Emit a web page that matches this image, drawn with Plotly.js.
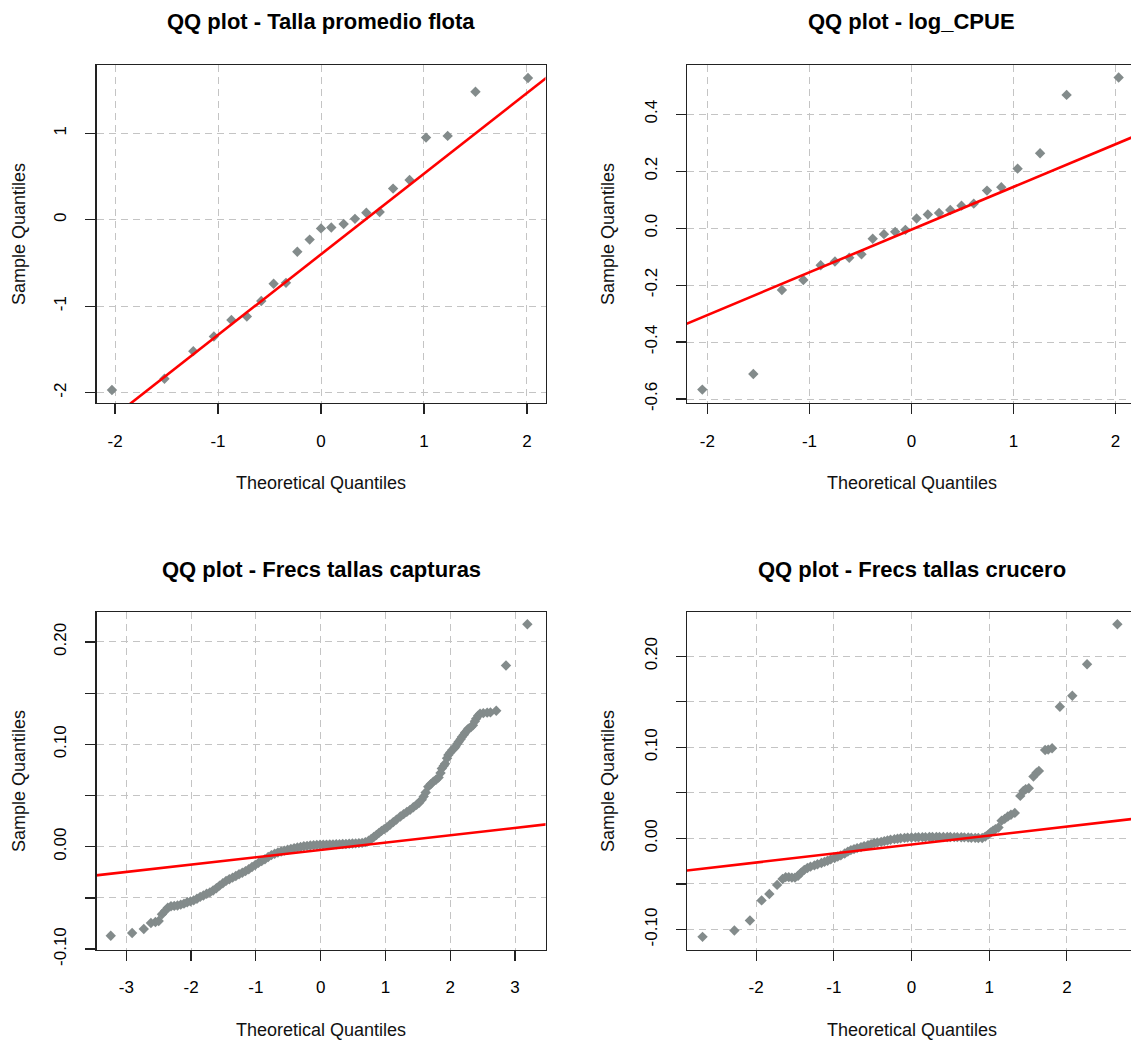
<!DOCTYPE html>
<html>
<head>
<meta charset="utf-8">
<script src="https://cdn.plot.ly/plotly-3.0.1.min.js"></script>
<style>
html,body{margin:0;padding:0;background:#fff;overflow:hidden;width:1131px;height:1046px;}
#chart{width:1160px;height:1046px;}
</style>
</head>
<body>
<div id="chart"></div>
<script>
// ---------- Data ----------
const titles = ["QQ plot - Talla promedio flota", "QQ plot - log_CPUE",
                "QQ plot - Frecs tallas capturas", "QQ plot - Frecs tallas crucero"];
const xTitle = "Theoretical Quantiles";
const yTitle = "Sample Quantiles";

// Panel 1: Talla promedio flota
const p1_x = [-2.03,-1.52,-1.24,-1.04,-0.87,-0.72,-0.58,-0.46,-0.34,-0.23,-0.11,0.00,0.10,0.22,0.33,0.44,0.57,0.70,0.86,1.02,1.23,1.50,2.01];
const p1_y = [-1.97,-1.84,-1.52,-1.35,-1.16,-1.12,-0.94,-0.74,-0.73,-0.37,-0.23,-0.10,-0.09,-0.05,0.01,0.08,0.09,0.36,0.46,0.95,0.97,1.48,1.64];
const p1_line = {intercept: -0.40, slope: 0.933};

// Panel 2: log_CPUE
const p2_x = [-2.05,-1.55,-1.27,-1.06,-0.89,-0.75,-0.61,-0.49,-0.38,-0.27,-0.16,-0.06,0.05,0.16,0.27,0.38,0.49,0.61,0.74,0.88,1.04,1.26,1.52,2.03];
const p2_y = [-0.567,-0.512,-0.217,-0.182,-0.130,-0.117,-0.104,-0.092,-0.037,-0.021,-0.013,-0.006,0.034,0.048,0.053,0.064,0.079,0.086,0.132,0.144,0.209,0.263,0.468,0.529];
const p2_line = {intercept: -0.005, slope: 0.150};

// Panel 3: Frecs tallas capturas
const p3_x = [-3.24,-2.91,-2.73,-2.62,-2.55,-2.50,-2.45,-2.40,-2.36,-2.31,-2.26,-2.21,-2.16,-2.11,-2.06,-2.01,-1.96,-1.91,-1.86,-1.81,-1.76,-1.71,-1.66,-1.61,-1.56,-1.51,-1.46,-1.41,-1.36,-1.31,-1.26,-1.21,-1.16,-1.11,-1.06,-1.01,-0.96,-0.91,-0.86,-0.81,-0.76,-0.71,-0.66,-0.61,-0.56,-0.51,-0.46,-0.41,-0.36,-0.31,-0.26,-0.21,-0.16,-0.11,-0.06,-0.01,0.04,0.09,0.14,0.19,0.24,0.29,0.34,0.39,0.44,0.49,0.54,0.59,0.64,0.69,0.74,0.78,0.82,0.86,0.90,0.94,0.98,1.02,1.07,1.12,1.17,1.23,1.28,1.33,1.38,1.43,1.48,1.52,1.56,1.59,1.62,1.66,1.70,1.74,1.78,1.82,1.85,1.87,1.90,1.92,1.95,1.97,2.00,2.03,2.06,2.08,2.11,2.13,2.16,2.18,2.21,2.23,2.26,2.28,2.32,2.35,2.38,2.40,2.43,2.46,2.51,2.57,2.62,2.71,2.86,3.19];
const p3_y = [-0.0869,-0.0843,-0.0804,-0.0745,-0.0735,-0.0725,-0.0660,-0.0625,-0.0595,-0.0582,-0.0578,-0.0574,-0.0566,-0.0556,-0.0542,-0.0534,-0.0524,-0.0508,-0.0490,-0.0476,-0.0460,-0.0446,-0.0428,-0.0405,-0.0380,-0.0357,-0.0334,-0.0318,-0.0302,-0.0286,-0.0269,-0.0254,-0.0238,-0.0220,-0.0198,-0.0178,-0.0158,-0.0140,-0.0122,-0.0100,-0.0082,-0.0068,-0.0056,-0.0046,-0.0038,-0.0030,-0.0022,-0.0014,-0.0008,-0.0002,0.0004,0.0008,0.0012,0.0015,0.0017,0.0019,0.0020,0.0021,0.0022,0.0023,0.0024,0.0025,0.0026,0.0027,0.0029,0.0031,0.0033,0.0035,0.0038,0.0045,0.0058,0.0075,0.0095,0.0115,0.0135,0.0155,0.0172,0.0188,0.0214,0.0240,0.0265,0.0295,0.0318,0.0340,0.0360,0.0385,0.0410,0.0430,0.0460,0.0490,0.0530,0.0587,0.0612,0.0636,0.0655,0.0676,0.0720,0.0765,0.0790,0.0810,0.0865,0.0895,0.0920,0.0944,0.0962,0.0976,0.1005,0.1025,0.1050,0.1073,0.1095,0.1115,0.1135,0.1154,0.1170,0.1187,0.1225,0.1251,0.1280,0.1300,0.1305,0.1310,0.1312,0.1329,0.1770,0.2173];
const p3_line = {intercept: -0.0031, slope: 0.00716};

// Panel 4: Frecs tallas crucero
const p4_x = [-2.69,-2.28,-2.08,-1.93,-1.83,-1.73,-1.66,-1.62,-1.58,-1.54,-1.50,-1.46,-1.42,-1.38,-1.34,-1.30,-1.25,-1.21,-1.16,-1.12,-1.08,-1.04,-0.99,-0.95,-0.91,-0.86,-0.82,-0.78,-0.74,-0.70,-0.65,-0.61,-0.56,-0.52,-0.48,-0.44,-0.39,-0.35,-0.31,-0.27,-0.22,-0.18,-0.14,-0.09,-0.05,0.00,0.05,0.09,0.14,0.18,0.23,0.27,0.32,0.36,0.41,0.46,0.50,0.55,0.59,0.64,0.68,0.73,0.77,0.82,0.86,0.91,0.95,0.99,1.02,1.05,1.08,1.12,1.16,1.20,1.24,1.28,1.33,1.40,1.44,1.47,1.51,1.57,1.61,1.64,1.72,1.76,1.81,1.91,2.07,2.26,2.65];
const p4_y = [-0.108,-0.101,-0.090,-0.068,-0.061,-0.051,-0.0445,-0.0425,-0.0425,-0.0430,-0.0430,-0.0410,-0.0375,-0.0345,-0.0325,-0.0310,-0.0296,-0.0283,-0.0270,-0.0257,-0.0245,-0.0230,-0.0215,-0.0200,-0.0186,-0.0165,-0.0145,-0.0128,-0.0117,-0.0106,-0.0095,-0.0084,-0.0073,-0.0062,-0.0051,-0.0045,-0.0038,-0.0030,-0.0022,-0.0015,-0.0008,-0.0003,0.0002,0.0006,0.0009,0.0011,0.0012,0.0013,0.0014,0.0014,0.0015,0.0015,0.0015,0.0015,0.0015,0.0015,0.0015,0.0014,0.0014,0.0013,0.0012,0.0010,0.0008,0.0006,0.0005,0.0005,0.0020,0.0045,0.0065,0.0085,0.0100,0.0120,0.0195,0.0215,0.0240,0.0260,0.0280,0.0467,0.0520,0.0540,0.0551,0.0679,0.0720,0.0741,0.0971,0.0975,0.0989,0.1445,0.1566,0.1912,0.235];
const p4_line = {intercept: -0.0067, slope: 0.00985};

// Tick values / labels
const p1_xt = [-2,-1,0,1,2], p1_yt = [-2,-1,0,1];
const p2_xt = [-2,-1,0,1,2], p2_yt = [-0.6,-0.4,-0.2,0.0,0.2,0.4];
const p2_ytl = ["-0.6","-0.4","-0.2","0.0","0.2","0.4"];
const p3_xt = [-3,-2,-1,0,1,2,3];
const p34_yt = [-0.10,-0.05,0.00,0.05,0.10,0.15,0.20];
const p34_ytl = ["-0.10","","0.00","","0.10","","0.20"];
const p4_xt = [-2,-1,0,1,2];

// ---------- Layout geometry ----------
const W = 1160, H = 1046;
const px = v => v / W, py = v => 1 - v / H;
const xdomL = [px(96.5), px(545.5)], xdomR = [px(687), px(1136)];
const ydomT = [py(403), py(65)], ydomB = [py(949.5), py(612)];

const ranges = {
  x1: [-2.18, 2.18], y1: [-2.12, 1.79],
  x2: [-2.20, 2.20], y2: [-0.614, 0.573],
  x3: [-3.46, 3.47], y3: [-0.1004, 0.2293],
  x4: [-2.89, 2.89], y4: [-0.1219, 0.2485]
};

const ptColor = "#838B8B";
const gridColor = "#c4c4c4";
const gridDash = "7px,5px";
const tickFont = {family: "Liberation Sans, Arial, sans-serif", size: 17, color: "#000"};

function pts(x, y, xa, ya) {
  return {x: x, y: y, xaxis: xa, yaxis: ya, type: "scatter", mode: "markers",
          marker: {symbol: "diamond", size: 8, color: ptColor}, hoverinfo: "none", showlegend: false};
}
function qline(l, r, xa, ya) {
  const xs = [r[0] - 1, r[1] + 1];
  return {x: xs, y: xs.map(v => l.intercept + l.slope * v), xaxis: xa, yaxis: ya,
          type: "scatter", mode: "lines", line: {color: "#ff0000", width: 2.6},
          hoverinfo: "none", showlegend: false};
}
function xax(dom, anchor, r, tv) {
  return {domain: dom, anchor: anchor, range: r, tickvals: tv, ticktext: tv.map(String),
          showgrid: true, gridcolor: gridColor, griddash: gridDash, gridwidth: 1,
          zeroline: false, showline: true, mirror: true, linecolor: "#222", linewidth: 1.3,
          ticks: "outside", ticklen: 10, tickcolor: "#222", tickwidth: 1.2,
          tickfont: tickFont, ticklabelstandoff: 12, fixedrange: true};
}
function yax(dom, anchor, r, tv, tt) {
  return {domain: dom, anchor: anchor, range: r, tickvals: tv, ticktext: tt || tv.map(String),
          tickangle: -90,
          showgrid: true, gridcolor: gridColor, griddash: gridDash, gridwidth: 1,
          zeroline: false, showline: true, mirror: true, linecolor: "#222", linewidth: 1.3,
          ticks: "outside", ticklen: 10, tickcolor: "#222", tickwidth: 1.2,
          tickfont: tickFont, ticklabelstandoff: 12, fixedrange: true};
}

const data = [
  pts(p1_x, p1_y, "x", "y"),   qline(p1_line, ranges.x1, "x", "y"),
  pts(p2_x, p2_y, "x2", "y2"), qline(p2_line, ranges.x2, "x2", "y2"),
  pts(p3_x, p3_y, "x3", "y3"), qline(p3_line, ranges.x3, "x3", "y3"),
  pts(p4_x, p4_y, "x4", "y4"), qline(p4_line, ranges.x4, "x4", "y4")
];

const titleFont = {family: "Liberation Sans, Arial, sans-serif", size: 22, color: "#000"};
const labFont = {family: "Liberation Sans, Arial, sans-serif", size: 18, color: "#111"};
const cL = (96.5 + 545.5) / 2, cR = (687 + 1136) / 2;
const ann = [];
function addAnn(text, x, y, font, angle) {
  ann.push({text: text, xref: "paper", yref: "paper", x: px(x), y: py(y),
            xanchor: "center", yanchor: "middle", showarrow: false, font: font, textangle: angle || 0});
}
addAnn("<b>" + titles[0] + "</b>", cL, 21, titleFont);
addAnn("<b>" + titles[1] + "</b>", cR, 21, titleFont);
addAnn("<b>" + titles[2] + "</b>", cL, 569, titleFont);
addAnn("<b>" + titles[3] + "</b>", cR, 569, titleFont);
addAnn(xTitle, cL, 483, labFont); addAnn(xTitle, cR, 483, labFont);
addAnn(xTitle, cL, 1030, labFont); addAnn(xTitle, cR, 1030, labFont);
addAnn(yTitle, 19, 234, labFont, -90); addAnn(yTitle, 608, 234, labFont, -90);
addAnn(yTitle, 19, 781, labFont, -90); addAnn(yTitle, 608, 781, labFont, -90);

const layout = {
  width: W, height: H, margin: {l: 0, r: 0, t: 0, b: 0},
  paper_bgcolor: "#fff", plot_bgcolor: "#fff", showlegend: false,
  font: {family: "Liberation Sans, Arial, sans-serif"},
  xaxis:  xax(xdomL, "y",  ranges.x1, p1_xt), yaxis:  yax(ydomT, "x",  ranges.y1, p1_yt),
  xaxis2: xax(xdomR, "y2", ranges.x2, p2_xt), yaxis2: yax(ydomT, "x2", ranges.y2, p2_yt, p2_ytl),
  xaxis3: xax(xdomL, "y3", ranges.x3, p3_xt), yaxis3: yax(ydomB, "x3", ranges.y3, p34_yt, p34_ytl),
  xaxis4: xax(xdomR, "y4", ranges.x4, p4_xt), yaxis4: yax(ydomB, "x4", ranges.y4, p34_yt, p34_ytl),
  annotations: ann
};

Plotly.newPlot("chart", data, layout, {displayModeBar: false, staticPlot: true});
</script>
</body>
</html>
